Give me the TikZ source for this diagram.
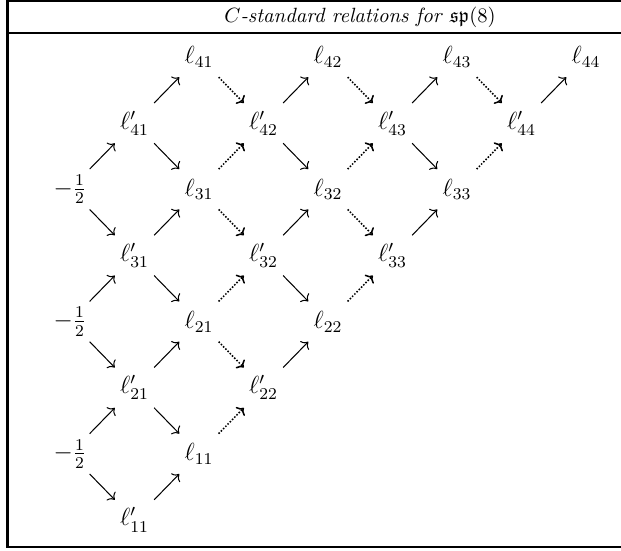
\documentclass[tikz,border=0pt]{standalone}
\usepackage{amsmath,amssymb}
\usetikzlibrary{arrows.meta,positioning,calc}
\tikzset{
  rel/.style={line width=0.5pt,-{To[length=2.8pt,width=6pt]},shorten <=0.48cm,shorten >=0.48cm},
  weakrel/.style={rel,line width=0.75pt,dash pattern=on 0.75pt off 0.8pt},
  frameline/.style={line width=1pt},
  entry/.style={font=\large}
}
\begin{document}
\begin{tikzpicture}[x=1.0995cm,y=-1.1274cm]
  \useasboundingbox (-1.085,-0.862) rectangle (8.543,7.458);
  \draw[frameline] (8.7,-0.847) -- (-0.969,-0.847) -- (-0.969,7.413) -- (8.7,7.413);
  \draw[frameline] (-0.969,-0.363) -- (8.7,-0.363);
  \node (title) at (4.496,-0.605) {$C$\textit{-standard relations for} $\mathfrak{sp}(8)$};
  \foreach \i in {1,...,4} {
    \foreach \j in {1,...,\i} {
      \node[entry] (l\i\j) at (2*\j,8-2*\i) {$\ell_{\i\j}$};
      \node[entry] (p\i\j) at (2*\j-1,9-2*\i) {$\ell'_{\i\j}$};
    }
  }
  \foreach \k in {1,2,3} {
    \pgfmathtruncatemacro{\kk}{\k+1}
    \node[entry] (h\k) at (0,8-2*\k) {$-\frac{1}{2}$};
    \draw[rel] (h\k.center) -- (p\kk1.center);
    \draw[rel] (h\k.center) -- (p\k1.center);
  }
  \foreach \i in {1,...,4} {
    \foreach \j in {1,...,\i} {
      \draw[rel] (p\i\j.center) -- (l\i\j.center);
    }
  }
  \foreach \i in {2,...,4} {
    \pgfmathtruncatemacro{\m}{\i-1}
    \foreach \j in {1,...,\m} {
      \pgfmathtruncatemacro{\n}{\j+1}
      \draw[rel] (p\i\j.center) -- (l\m\j.center);
      \draw[weakrel] (l\i\j.center) -- (p\i\n.center);
      \draw[weakrel] (l\m\j.center) -- (p\i\n.center);
    }
  }
\end{tikzpicture}
\end{document}
